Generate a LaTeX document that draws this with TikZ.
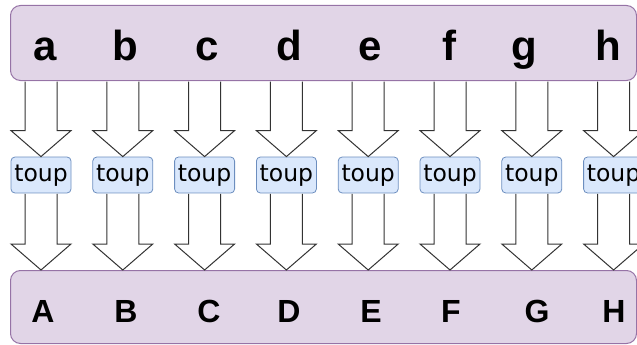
\documentclass[tikz,border=0pt]{standalone}
\usepackage{fontspec}
\setmainfont{Liberation Sans}
\newfontfamily\toupfont{DejaVu Sans}
\usetikzlibrary{calc}

\definecolor{rowfill}{HTML}{E1D5E7}
\definecolor{rowline}{HTML}{9673A6}
\definecolor{toupfill}{HTML}{DAE8FC}
\definecolor{toupline}{HTML}{6C8EBF}
\definecolor{arrowline}{HTML}{333333}

\tikzset{
  rowbox/.style={draw=rowline, fill=rowfill, rounded corners=10pt, line width=1pt,
    minimum width=626pt, anchor=north west},
  toupbox/.style={draw=toupline, fill=toupfill, rounded corners=4pt, line width=0.8pt,
    minimum width=60pt, minimum height=36pt, inner sep=0pt,
    text height=15pt, text depth=3pt,
    font=\toupfont\fontsize{23.5}{23.5}\selectfont},
  blockarrow/.style={draw=arrowline, fill=white, line width=1pt, to path={
    let \p1=(\tikztostart), \p2=(\tikztotarget) in
    (\x1-16pt,\y1-0.5pt) -- (\x1-16pt,\y2+26pt) -- (\x1-30pt,\y2+26pt) -- (\x2,\y2)
    -- (\x1+30pt,\y2+26pt) -- (\x1+16pt,\y2+26pt) -- (\x1+16pt,\y1-0.5pt)}},
}

\begin{document}
\begin{tikzpicture}[x=1pt, y=-1pt]
  \useasboundingbox (0,0) rectangle (637,345);

  \node[rowbox, minimum height=75pt] (top) at (10,5) {};
  \node[rowbox, minimum height=73pt] (bot) at (10,270) {};

  % input and output letters
  \foreach \x/\l [count=\k] in {45/a,125/b,207/c,289/d,370/e,449/f,524/g,608/h}
    \node[anchor=base, inner sep=0pt, font=\fontsize{42}{42}\bfseries\selectfont] (in\k) at (\x,60) {\l};
  \foreach \x/\l [count=\k] in {43/A,126/B,209/C,289/D,371/E,451/F,537/G,614/H}
    \node[anchor=base, inner sep=0pt, font=\fontsize{32}{32}\bfseries\selectfont] (out\k) at (\x,322) {\l};

  % one toup per column
  \foreach \i in {0,...,7} {
    \node[toupbox] (t\i) at ({41+81.8*\i},175) {toup};
    \draw[blockarrow] (t\i |- top.south) to (t\i.north);
    \draw[blockarrow] (t\i.south) to (t\i |- bot.north);
  }
\end{tikzpicture}
\end{document}
